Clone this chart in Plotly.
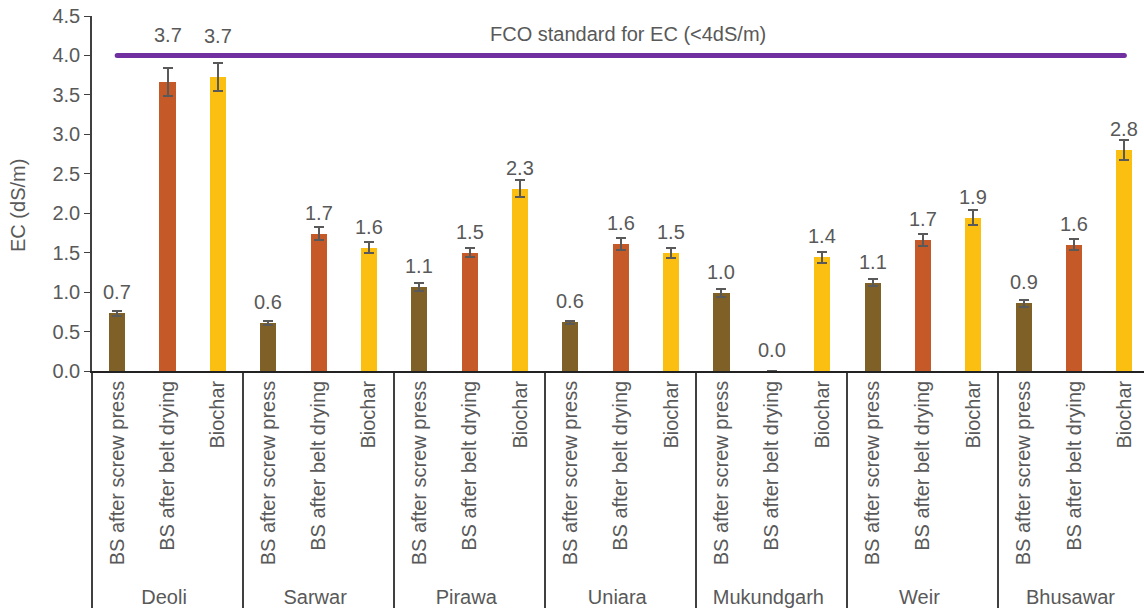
import plotly.graph_objects as go

# Sites and materials
sites = ["Deoli", "Sarwar", "Pirawa", "Uniara", "Mukundgarh", "Weir", "Bhusawar"]
materials = ["BS after screw press", "BS after belt drying", "Biochar"]

# Mean EC (dS/m) per site for each material
ec_screw = [0.73, 0.61, 1.07, 0.62, 0.99, 1.12, 0.86]
ec_belt = [3.66, 1.74, 1.50, 1.61, 0.00, 1.66, 1.60]
ec_biochar = [3.73, 1.56, 2.31, 1.50, 1.44, 1.94, 2.80]

# Standard deviations
sd_screw = [0.03, 0.03, 0.05, 0.02, 0.05, 0.04, 0.045]
sd_belt = [0.18, 0.08, 0.06, 0.075, 0.00, 0.075, 0.07]
sd_biochar = [0.18, 0.07, 0.11, 0.065, 0.07, 0.095, 0.13]

# FCO limit for EC
fco_limit = 4.0

colors = {"BS after screw press": "#7F6128",
          "BS after belt drying": "#C55A28",
          "Biochar": "#FBBF12"}

# Interleave series so each site holds its three materials in order
outer, inner, vals, errs, cols = [], [], [], [], []
series = [ec_screw, ec_belt, ec_biochar]
sds = [sd_screw, sd_belt, sd_biochar]
for i, s in enumerate(sites):
    for m, mat in enumerate(materials):
        outer.append(s)
        inner.append(mat)
        vals.append(series[m][i])
        errs.append(sds[m][i])
        cols.append(colors[mat])

FONT = "Liberation Sans, Arial, sans-serif"
GREY = "#595959"

fig = go.Figure()
fig.add_trace(go.Bar(
    x=[outer, inner], y=vals,
    marker=dict(color=cols, line=dict(width=0)),
    width=0.32,
    error_y=dict(type="data", array=errs, visible=True,
                 color=GREY, thickness=2, width=5),
    hoverinfo="y", showlegend=False,
))

# FCO standard line
fig.add_trace(go.Scatter(
    x=[[sites[0], sites[-1]], [materials[0], materials[-1]]],
    y=[fco_limit, fco_limit],
    mode="lines+markers",
    line=dict(color="#7030A0", width=5),
    marker=dict(color="#7030A0", size=5),
    hoverinfo="skip", showlegend=False,
))

# Value labels above bars (two lifted clear of the standard line)
lift = {(0, 1): 34, (0, 2): 28}
annotations = []
for k, v in enumerate(vals):
    i, m = divmod(k, 3)
    annotations.append(dict(
        x=k, y=v, xref="x", yref="y", text=f"{v:.1f}",
        showarrow=False, yanchor="bottom", xanchor="center",
        yshift=lift.get((i, m), 8),
        font=dict(family=FONT, size=20, color=GREY),
    ))

annotations.append(dict(
    x=10.15, y=fco_limit, xref="x", yref="y",
    text="FCO standard for EC (<4dS/m)", showarrow=False,
    yanchor="bottom", xanchor="center", yshift=8,
    font=dict(family=FONT, size=20, color=GREY),
))

annotations.append(dict(
    x=-0.0703, y=0.465, xref="paper", yref="paper",
    text="EC (dS/m)", textangle=-90, showarrow=False,
    xanchor="center", yanchor="middle",
    font=dict(family=FONT, size=20, color=GREY),
))

fig.update_layout(
    width=1144, height=611,
    margin=dict(l=92, r=0, t=16, b=240),
    paper_bgcolor="white", plot_bgcolor="white",
    font=dict(family=FONT, size=20, color=GREY),
    annotations=annotations,
    bargap=0,
)

fig.update_xaxes(
    type="multicategory",
    range=[-0.5, 20.39],
    tickangle=-90,
    showline=True, linecolor="#222222", linewidth=1.5,
    showdividers=True, dividercolor="#404040", dividerwidth=1.5,
    ticks="", showgrid=False,
    tickfont=dict(family=FONT, size=20, color=GREY),
)

fig.update_yaxes(
    range=[0, 4.5], dtick=0.5, tickformat=".1f",
    showline=True, linecolor="#404040", linewidth=1.5,
    ticks="outside", ticklen=6, tickcolor="#404040",
    showgrid=False, zeroline=False,
    tickfont=dict(family=FONT, size=20, color=GREY),
)

fig.write_html("out.html")
